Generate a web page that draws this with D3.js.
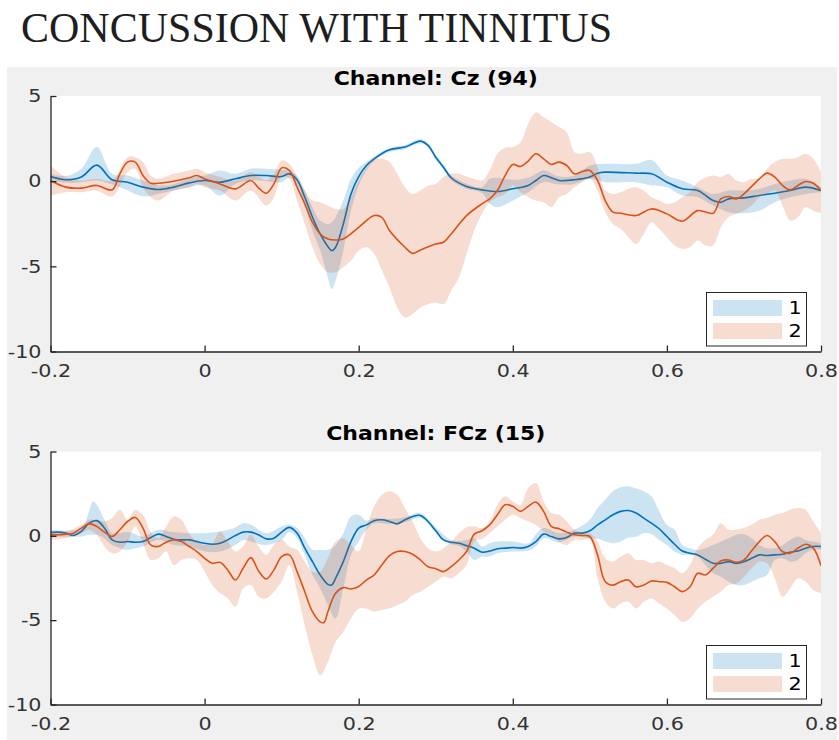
<!DOCTYPE html>
<html>
<head>
<meta charset="utf-8">
<script src="https://cdn.jsdelivr.net/npm/d3@7"></script>
<style>
  body { margin: 0; background: #fff; }
  svg { display: block; }
</style>
</head>
<body>
<div id="wrapper"></div>
<script>
// ---- data: [time, mean] and [time, lower, upper] ----
const groups = ["1", "2"]

const czMean1 = [[-0.2,0.27],[-0.18,0.08],[-0.16,0.24],[-0.14,0.94],[-0.12,0.08],[-0.1,-0.06],[-0.08,-0.35],[-0.06,-0.49],[-0.04,-0.35],[-0.02,-0.1],[0,0.04],[0.02,-0.06],[0.04,0.14],[0.06,0.33],[0.08,0.33],[0.1,0.27],[0.11,0.43],[0.12,0.08],[0.13,-0.94],[0.14,-2.12],[0.15,-3.1],[0.16,-3.84],[0.165,-4.08],[0.17,-3.88],[0.18,-2.51],[0.19,-0.75],[0.2,0.27],[0.21,0.92],[0.22,1.31],[0.24,1.84],[0.26,2.0],[0.27,2.2],[0.28,2.35],[0.29,2.1],[0.3,1.4],[0.31,0.82],[0.32,0.2],[0.34,-0.31],[0.36,-0.51],[0.38,-0.61],[0.4,-0.45],[0.42,-0.25],[0.43,0.04],[0.44,0.33],[0.45,0.2],[0.46,0.04],[0.48,0.08],[0.5,0.24],[0.51,0.47],[0.52,0.53],[0.56,0.47],[0.58,0.43],[0.6,-0.06],[0.62,-0.45],[0.64,-0.55],[0.66,-1.14],[0.67,-1.24],[0.68,-1.04],[0.7,-0.98],[0.72,-0.84],[0.74,-0.71],[0.76,-0.55],[0.78,-0.35],[0.8,-0.55]]

const czBand1 = [[-0.2,0.08,0.43],[-0.18,-0.1,0.3],[-0.16,-0.06,0.73],[-0.14,0.04,2.0],[-0.12,-0.2,0.43],[-0.1,-0.55,0.33],[-0.08,-0.9,0.04],[-0.06,-0.75,-0.25],[-0.04,-0.55,-0.16],[-0.02,-0.35,0.14],[0,-0.25,0.33],[0.02,-0.84,0.63],[0.04,-0.16,0.43],[0.06,0.04,0.73],[0.08,0,0.73],[0.1,-0.06,0.67],[0.11,0.2,0.63],[0.12,-0.2,0.33],[0.13,-1.43,-0.55],[0.14,-2.9,-1.53],[0.15,-4.08,-2.31],[0.16,-5.65,-2.51],[0.165,-6.33,-2.41],[0.17,-5.84,-2.12],[0.18,-4.08,-1.14],[0.19,-1.73,0.14],[0.2,-0.25,0.78],[0.21,0.63,1.12],[0.22,1.18,1.45],[0.24,1.72,1.95],[0.26,1.88,2.12],[0.28,2.22,2.48],[0.29,1.98,2.22],[0.3,1.25,1.55],[0.31,0.68,0.96],[0.32,0.05,0.35],[0.34,-0.45,-0.15],[0.36,-0.7,-0.35],[0.37,-1.33,0.14],[0.38,-1.53,0.2],[0.4,-1.14,0.08],[0.42,-0.65,0.2],[0.44,-0.06,0.63],[0.46,-0.2,0.27],[0.48,-0.16,0.33],[0.5,0.14,0.92],[0.52,-0.06,1.02],[0.56,-0.06,1.02],[0.58,-0.25,1.25],[0.6,-0.35,0.33],[0.62,-0.84,0.04],[0.64,-0.94,-0.35],[0.66,-1.43,-0.75],[0.68,-1.82,-0.55],[0.7,-1.88,-0.55],[0.72,-1.73,-0.45],[0.74,-1.24,-0.16],[0.76,-0.94,0.04],[0.78,-0.75,0.14],[0.8,-0.65,-0.35]]

const czMean2 = [[-0.2,0.04],[-0.18,-0.35],[-0.16,-0.41],[-0.14,-0.25],[-0.12,-0.51],[-0.11,0.43],[-0.1,1.12],[-0.09,1.12],[-0.08,0.33],[-0.07,-0.12],[-0.06,-0.12],[-0.04,0],[-0.02,0.2],[-0.01,0.33],[0,0.14],[0.02,-0.16],[0.04,-0.45],[0.06,0.04],[0.07,-0.39],[0.08,-0.71],[0.09,-0.16],[0.1,0.78],[0.11,0.63],[0.12,-0.35],[0.13,-1.33],[0.14,-2.41],[0.15,-3.1],[0.16,-3.39],[0.17,-3.45],[0.18,-3.39],[0.2,-2.71],[0.22,-2.02],[0.23,-2.12],[0.24,-2.9],[0.26,-3.88],[0.27,-4.24],[0.28,-4.04],[0.3,-3.69],[0.31,-3.59],[0.32,-3.1],[0.34,-2.02],[0.36,-1.33],[0.37,-1.04],[0.38,-0.55],[0.39,0.33],[0.4,0.98],[0.41,0.86],[0.42,1.18],[0.43,1.61],[0.44,1.31],[0.45,0.98],[0.46,1.12],[0.47,0.92],[0.48,0.43],[0.49,0.57],[0.5,0.63],[0.51,0.04],[0.52,-1.14],[0.53,-1.82],[0.54,-1.88],[0.56,-2.02],[0.58,-1.63],[0.6,-1.92],[0.62,-2.35],[0.64,-1.73],[0.66,-1.88],[0.67,-1.04],[0.68,-0.9],[0.69,-1.04],[0.7,-0.75],[0.72,0.14],[0.73,0.47],[0.74,0.24],[0.75,-0.25],[0.76,-0.51],[0.77,-0.25],[0.78,-0.02],[0.79,-0.12],[0.8,-0.55]]

const czBand2 = [[-0.2,-0.84,0.92],[-0.18,-0.65,0.24],[-0.16,-0.65,0.04],[-0.14,-0.55,0.14],[-0.12,-0.9,0.04],[-0.1,0.53,1.41],[-0.09,0.73,1.41],[-0.08,-0.35,1.12],[-0.07,-0.94,0.33],[-0.06,-1.14,0.14],[-0.04,-0.55,0.43],[-0.02,-0.35,0.63],[-0.01,-0.16,0.73],[0,-0.35,0.53],[0.02,-0.55,0.24],[0.04,-1.14,0.04],[0.06,-0.55,0.53],[0.08,-1.43,0.04],[0.09,-0.94,0.43],[0.1,0.24,1.22],[0.11,0.14,1.02],[0.12,-1.14,0.24],[0.13,-2.51,-0.55],[0.14,-3.88,-1.14],[0.15,-4.86,-1.24],[0.16,-5.35,-1.43],[0.17,-5.35,-1.63],[0.18,-5.06,-1.63],[0.19,-4.67,-0.94],[0.2,-4.08,0.04],[0.21,-3.88,0.82],[0.22,-4.27,1.31],[0.23,-5.25,1.31],[0.24,-6.24,1.12],[0.25,-7.41,0.43],[0.26,-8.0,-0.35],[0.27,-7.8,-0.75],[0.28,-7.41,-0.55],[0.29,-7.22,-0.25],[0.3,-7.12,-0.16],[0.31,-7.22,0.24],[0.32,-6.43,0.43],[0.33,-5.65,0.43],[0.34,-4.27,0.27],[0.35,-2.9,0.14],[0.36,-1.92,0.04],[0.37,-1.24,0.63],[0.38,-0.94,1.61],[0.39,-0.75,1.96],[0.4,-0.25,2.0],[0.41,-0.65,2.29],[0.42,-0.94,3.37],[0.43,-1.14,4.04],[0.44,-1.24,3.76],[0.45,-1.53,3.47],[0.46,-0.94,3.18],[0.47,-0.75,2.88],[0.48,-0.35,1.71],[0.49,-0.06,1.61],[0.5,0.14,1.71],[0.51,-0.55,0.82],[0.52,-1.82,-0.55],[0.53,-2.51,-0.75],[0.54,-2.8,-0.65],[0.55,-3.29,-0.45],[0.56,-3.69,-0.35],[0.57,-3.1,-0.55],[0.58,-2.41,-0.94],[0.59,-2.8,-1.14],[0.6,-3.29,-1.33],[0.61,-3.78,-1.24],[0.62,-3.98,-0.94],[0.63,-3.88,-0.65],[0.64,-3.49,-0.06],[0.65,-3.78,0.2],[0.66,-3.78,0.33],[0.67,-2.71,0.24],[0.68,-2.12,0.43],[0.69,-1.92,0.04],[0.7,-1.73,-0.06],[0.71,-1.43,0.14],[0.72,-0.94,0.14],[0.73,-0.75,0.73],[0.74,-0.55,1.12],[0.75,-1.43,1.31],[0.76,-2.31,1.31],[0.77,-2.12,1.41],[0.78,-1.53,1.61],[0.79,-1.73,1.31],[0.8,-1.88,0.53]]

const fczMean1 = [[-0.2,0.2],[-0.19,0.22],[-0.18,0.16],[-0.17,0.02],[-0.16,0.26],[-0.15,0.75],[-0.14,0.9],[-0.13,0.46],[-0.12,-0.24],[-0.11,-0.38],[-0.1,-0.34],[-0.09,-0.38],[-0.08,-0.34],[-0.07,-0.1],[-0.06,0.1],[-0.05,-0.04],[-0.04,-0.2],[-0.03,-0.24],[-0.02,-0.24],[-0.01,-0.34],[0,-0.44],[0.01,-0.5],[0.02,-0.44],[0.03,-0.24],[0.04,0.02],[0.05,0.22],[0.06,0.22],[0.07,0.06],[0.08,-0.18],[0.09,-0.14],[0.1,0.22],[0.11,0.5],[0.12,0.16],[0.13,-0.73],[0.14,-1.53],[0.15,-2.32],[0.16,-2.88],[0.165,-2.92],[0.17,-2.52],[0.18,-1.53],[0.19,-0.34],[0.2,0.46],[0.21,0.65],[0.22,0.9],[0.23,0.95],[0.24,0.85],[0.25,0.71],[0.26,0.95],[0.27,1.15],[0.28,1.21],[0.29,0.85],[0.3,0.3],[0.31,-0.24],[0.32,-0.38],[0.33,-0.44],[0.34,-0.58],[0.35,-0.73],[0.36,-0.97],[0.37,-0.9],[0.38,-0.77],[0.39,-0.73],[0.4,-0.69],[0.41,-0.73],[0.42,-0.63],[0.43,-0.34],[0.44,0.1],[0.45,-0.04],[0.46,-0.18],[0.47,-0.1],[0.48,0.16],[0.49,0.16],[0.5,0.3],[0.51,0.65],[0.52,0.95],[0.53,1.25],[0.54,1.45],[0.55,1.5],[0.56,1.35],[0.57,1.05],[0.58,0.75],[0.59,0.42],[0.6,-0.04],[0.61,-0.5],[0.62,-0.9],[0.63,-1.03],[0.64,-1.13],[0.65,-1.39],[0.66,-1.63],[0.67,-1.63],[0.68,-1.53],[0.69,-1.63],[0.7,-1.53],[0.71,-1.33],[0.72,-1.13],[0.73,-1.17],[0.74,-1.13],[0.75,-1.09],[0.76,-0.97],[0.77,-0.9],[0.78,-0.73],[0.79,-0.63],[0.8,-0.63]]

const fczBand1 = [[-0.2,-0.04,0.36],[-0.16,-0.04,0.46],[-0.15,0.06,1.45],[-0.145,0.06,2.04],[-0.14,0.06,1.85],[-0.13,-0.14,0.95],[-0.12,-0.54,0.16],[-0.11,-0.73,0.16],[-0.1,-0.83,0.22],[-0.09,-0.73,0.1],[-0.08,-0.63,-0.04],[-0.06,-0.24,0.36],[-0.04,-0.54,0.22],[-0.02,-0.63,0.16],[0,-0.93,0.16],[0.02,-0.93,0.26],[0.04,-0.54,0.5],[0.05,-0.24,0.75],[0.06,-0.34,0.65],[0.08,-0.54,0.16],[0.1,-0.24,0.56],[0.11,0.22,0.65],[0.12,-0.14,0.46],[0.13,-1.13,-0.14],[0.14,-2.32,-0.83],[0.15,-3.12,-0.83],[0.16,-4.11,-0.83],[0.17,-4.9,-0.54],[0.18,-3.12,0.16],[0.19,-1.13,1.15],[0.2,-0.34,1.25],[0.21,0.36,0.89],[0.22,0.75,1.05],[0.24,0.7,1.0],[0.26,0.8,1.1],[0.28,1.06,1.36],[0.3,0.2,0.5],[0.32,-0.5,-0.25],[0.33,-0.6,-0.3],[0.34,-0.93,-0.24],[0.35,-1.43,-0.14],[0.36,-1.23,-0.63],[0.37,-1.23,-0.44],[0.38,-1.03,-0.34],[0.4,-0.93,-0.34],[0.42,-0.89,-0.44],[0.43,-0.63,0.1],[0.44,-0.14,0.46],[0.46,-0.38,0.16],[0.48,-0.04,0.36],[0.5,-0.14,0.95],[0.51,-0.18,1.65],[0.52,-0.34,2.14],[0.53,-0.44,2.64],[0.54,-0.34,2.88],[0.55,-0.1,2.94],[0.56,-0.05,2.8],[0.57,0.16,2.64],[0.58,0.1,2.34],[0.59,-0.24,1.45],[0.6,-0.54,0.65],[0.61,-0.93,0.36],[0.62,-1.13,-0.54],[0.63,-1.13,-0.73],[0.64,-1.23,-0.83],[0.65,-1.73,-0.73],[0.66,-2.22,-0.54],[0.67,-2.42,-0.34],[0.68,-2.72,-0.14],[0.69,-2.92,0.06],[0.7,-2.92,0.1],[0.71,-2.72,-0.14],[0.72,-2.52,-0.54],[0.73,-2.32,-0.73],[0.74,-1.43,-0.73],[0.75,-1.33,-0.54],[0.76,-1.53,-0.24],[0.77,-1.43,-0.04],[0.78,-1.03,-0.24],[0.79,-0.83,-0.34],[0.8,-0.83,-0.44]]

const fczMean2 = [[-0.2,0.06],[-0.19,0.06],[-0.18,0.1],[-0.17,0.16],[-0.16,0.46],[-0.15,0.71],[-0.14,0.56],[-0.13,0.22],[-0.12,-0.04],[-0.11,0.36],[-0.1,0.85],[-0.09,1.09],[-0.08,0.46],[-0.07,-0.54],[-0.06,-0.63],[-0.05,-0.38],[-0.04,-0.24],[-0.03,-0.34],[-0.02,-0.63],[-0.01,-0.93],[0,-1.33],[0.01,-1.63],[0.02,-1.57],[0.03,-2.02],[0.04,-2.62],[0.05,-1.92],[0.06,-1.29],[0.07,-2.08],[0.08,-2.56],[0.09,-2.02],[0.1,-1.23],[0.11,-1.13],[0.12,-2.12],[0.13,-3.31],[0.14,-4.5],[0.15,-5.1],[0.155,-5.14],[0.16,-4.5],[0.17,-3.41],[0.18,-3.07],[0.19,-3.15],[0.2,-3.0],[0.21,-2.62],[0.22,-2.32],[0.23,-1.73],[0.24,-1.17],[0.25,-0.93],[0.26,-0.93],[0.27,-1.09],[0.28,-1.43],[0.29,-1.83],[0.3,-1.95],[0.31,-2.12],[0.32,-1.83],[0.33,-1.43],[0.34,-0.93],[0.35,0.1],[0.36,0.3],[0.37,0.65],[0.38,1.25],[0.39,1.85],[0.4,1.75],[0.41,1.45],[0.42,1.75],[0.43,2.0],[0.44,1.45],[0.45,0.56],[0.46,0.42],[0.47,0.22],[0.48,0.06],[0.49,0.02],[0.5,-0.04],[0.51,-1.13],[0.52,-2.72],[0.53,-2.92],[0.54,-2.72],[0.55,-2.62],[0.56,-3.02],[0.57,-2.92],[0.58,-2.68],[0.59,-2.72],[0.6,-2.76],[0.61,-3.02],[0.62,-3.31],[0.63,-3.02],[0.64,-2.22],[0.65,-2.32],[0.66,-1.92],[0.67,-1.49],[0.68,-1.43],[0.69,-1.57],[0.7,-1.43],[0.71,-0.89],[0.72,-0.34],[0.73,0.02],[0.74,-0.34],[0.75,-0.93],[0.76,-1.03],[0.77,-0.73],[0.78,-0.5],[0.79,-0.73],[0.8,-1.77]]

const fczBand2 = [[-0.2,-0.24,0.26],[-0.18,-0.14,0.26],[-0.16,0.16,0.65],[-0.15,0.36,0.95],[-0.14,0.06,0.95],[-0.13,-0.63,0.85],[-0.12,-1.03,1.05],[-0.11,-0.93,1.55],[-0.1,-0.34,0.95],[-0.09,0.56,1.55],[-0.08,-0.44,1.25],[-0.07,-1.43,0.26],[-0.06,-1.33,-0.14],[-0.05,-0.93,0.56],[-0.04,-1.73,1.15],[-0.03,-1.43,0.95],[-0.02,-1.33,0.16],[-0.01,-1.43,-0.34],[0,-2.12,-0.54],[0.01,-2.92,-0.44],[0.02,-3.41,0.26],[0.03,-3.71,-0.34],[0.04,-4.21,-0.93],[0.05,-3.12,-0.63],[0.06,-2.92,0.06],[0.07,-3.61,-0.63],[0.08,-3.71,-1.13],[0.09,-3.31,-0.54],[0.1,-2.72,-0.24],[0.11,-1.73,-0.63],[0.12,-3.31,-0.83],[0.13,-5.3,-1.53],[0.14,-7.08,-2.12],[0.15,-8.27,-2.12],[0.16,-7.48,-1.33],[0.17,-6.29,-0.34],[0.18,-5.69,-0.14],[0.19,-4.9,-0.54],[0.2,-4.31,-0.93],[0.21,-4.31,0.46],[0.22,-4.5,1.75],[0.23,-4.4,2.44],[0.24,-4.31,2.64],[0.25,-4.11,2.44],[0.26,-3.91,1.65],[0.27,-3.51,0.85],[0.28,-3.31,-0.14],[0.29,-3.02,-0.73],[0.3,-2.72,-0.93],[0.31,-2.42,-0.73],[0.32,-2.52,-0.34],[0.33,-2.22,0.16],[0.34,-1.73,0.5],[0.35,-0.34,0.56],[0.36,-0.18,0.46],[0.37,0.16,0.85],[0.38,0.56,1.85],[0.39,0.95,2.34],[0.4,1.25,2.04],[0.41,1.05,1.85],[0.42,0.85,2.84],[0.43,0.65,3.13],[0.44,0.26,2.04],[0.45,0.06,1.35],[0.46,-0.38,1.25],[0.47,-0.54,0.85],[0.48,-0.24,0.36],[0.49,-0.24,0.22],[0.5,-0.24,0.16],[0.51,-2.52,-0.34],[0.52,-3.91,-1.33],[0.53,-4.31,-1.53],[0.54,-4.01,-1.23],[0.55,-3.91,-1.03],[0.56,-4.31,-1.43],[0.57,-3.91,-1.43],[0.58,-3.71,-1.63],[0.59,-4.01,-1.53],[0.6,-4.31,-1.73],[0.61,-4.7,-1.92],[0.62,-5.1,-2.22],[0.63,-4.9,-1.73],[0.64,-4.31,-0.73],[0.65,-3.91,-0.24],[0.66,-3.61,0.06],[0.67,-3.31,0.75],[0.68,-2.92,0.36],[0.69,-2.82,0.36],[0.7,-2.42,0.46],[0.71,-1.92,0.65],[0.72,-1.53,0.95],[0.73,-1.63,1.05],[0.74,-2.52,1.25],[0.75,-3.61,1.35],[0.76,-3.12,1.55],[0.77,-2.52,1.65],[0.78,-2.72,1.55],[0.79,-3.21,0.85],[0.8,-3.41,0.16]]

const xTicks = [-0.2, 0, 0.2, 0.4, 0.6, 0.8]
const yTicks = [-10, -5, 0, 5]

const panels = [
    { title: "Channel: Cz (94)", top: 96, bottom: 351.5, mean1: czMean1, band1: czBand1, mean2: czMean2, band2: czBand2 },
    { title: "Channel: FCz (15)", top: 451.5, bottom: 704.5, mean1: fczMean1, band1: fczBand1, mean2: fczMean2, band2: fczBand2 },
]

// ---- chart setup ----
const width = 839
const height = 740
const left = 50.5
const right = 821
const colors = ["#0072BD", "#D95319"]
const axisColor = "#262626"
const stretch = 1.15   // tick text in the figure is a bit wider than DejaVu

const svg = d3.select("#wrapper")
    .append("svg")
        .attr("width", width)
        .attr("height", height)

// figure background
svg.append("rect")
    .attr("x", 7).attr("y", 67)
    .attr("width", 830).attr("height", height - 67)
    .attr("fill", "#f0f0f0")

svg.append("text")
    .attr("x", 21).attr("y", 42)
    .attr("font-family", "'Liberation Serif', 'Times New Roman', serif")
    .attr("font-size", 42)
    .attr("fill", "#1e1e1e")
    .text("CONCUSSION WITH TINNITUS")

const x = d3.scaleLinear().domain([-0.2, 0.8]).range([left, right])

// plain hyphen minus, like the matlab labels
const plainFormat = d => String(d)

function stretchedText(g, tx, ty, str, opts) {
    const t = g.append("g").attr("transform", `translate(${tx},${ty})`)
        .append("text")
        .attr("transform", `scale(${opts.sx || stretch},1)`)
        .attr("text-anchor", opts.anchor || "start")
        .attr("dy", opts.dy || 0)
        .attr("font-family", "'DejaVu Sans', sans-serif")
        .attr("font-size", opts.size || 18)
        .attr("font-weight", opts.weight || "normal")
        .attr("fill", opts.fill || axisColor)
        .text(str)
    return t
}

panels.forEach((p, i) => {
    const y = d3.scaleLinear().domain([-10, 5]).range([p.bottom, p.top])
    const g = svg.append("g")

    g.append("rect")
        .attr("x", left).attr("y", p.top)
        .attr("width", right - left).attr("height", p.bottom - p.top)
        .attr("fill", "white")

    const clipId = "clip" + i
    g.append("clipPath").attr("id", clipId)
        .append("rect")
        .attr("x", left).attr("y", p.top)
        .attr("width", right - left).attr("height", p.bottom - p.top)

    const area = d3.area()
        .x(d => x(d[0]))
        .y0(d => y(d[1]))
        .y1(d => y(d[2]))
        .curve(d3.curveCatmullRom.alpha(0.5))

    const line = d3.line()
        .x(d => x(d[0]))
        .y(d => y(d[1]))
        .curve(d3.curveCatmullRom.alpha(0.5))

    const plot = g.append("g").attr("clip-path", `url(#${clipId})`)
    const series = [[p.band1, p.mean1], [p.band2, p.mean2]]
    series.forEach(([band, mean], k) => {
        plot.append("path")
            .datum(band)
            .attr("d", area)
            .attr("fill", colors[k])
            .attr("fill-opacity", 0.2)
            .attr("stroke", "none")
        plot.append("path")
            .datum(mean)
            .attr("d", line)
            .attr("fill", "none")
            .attr("stroke", colors[k])
            .attr("stroke-width", 1.6)
    })

    // axes, ticks pointing inward like matlab
    const yAxis = g.append("g")
        .attr("transform", `translate(${left},0)`)
        .call(d3.axisLeft(y).tickValues(yTicks).tickSizeInner(-6).tickSizeOuter(0).tickPadding(9)
            .tickFormat(plainFormat))
    const xAxis = g.append("g")
        .attr("transform", `translate(0,${p.bottom})`)
        .call(d3.axisBottom(x).tickValues(xTicks).tickSizeInner(-6).tickSizeOuter(0).tickPadding(13)
            .tickFormat(plainFormat))

    ;[yAxis, xAxis].forEach(a => {
        a.select(".domain").attr("stroke", axisColor).attr("stroke-width", 1.3)
        a.selectAll(".tick line").attr("stroke", axisColor).attr("stroke-width", 1.3)
        a.selectAll("text")
            .attr("font-family", "'DejaVu Sans', sans-serif")
            .attr("font-size", 18)
            .attr("fill", "#333")
    })
    yAxis.selectAll("text")
        .attr("x", -9 / stretch)
        .attr("transform", `scale(${stretch},1)`)
    xAxis.selectAll("text")
        .attr("transform", `scale(${stretch},1)`)

    // title
    stretchedText(g, (left + right) / 2, p.top - 11.5, p.title,
        { anchor: "middle", size: 20, weight: "bold", fill: "#000", sx: 1.1 })

    // legend
    const lx = 706.5, lw = 100, lh = 53.5
    const ly = p.bottom - 5.5 - lh
    g.append("rect")
        .attr("x", lx).attr("y", ly)
        .attr("width", lw).attr("height", lh)
        .attr("fill", "white")
        .attr("stroke", axisColor)
        .attr("stroke-width", 1)
    groups.forEach((name, k) => {
        const ry = ly + 7.5 + k * 23
        g.append("rect")
            .attr("x", lx + 6.5).attr("y", ry)
            .attr("width", 69).attr("height", 16)
            .attr("fill", colors[k])
            .attr("fill-opacity", 0.2)
        stretchedText(g, lx + 82, ry + 8, name, { dy: "0.35em", fill: "#000" })
    })
})
</script>
</body>
</html>
